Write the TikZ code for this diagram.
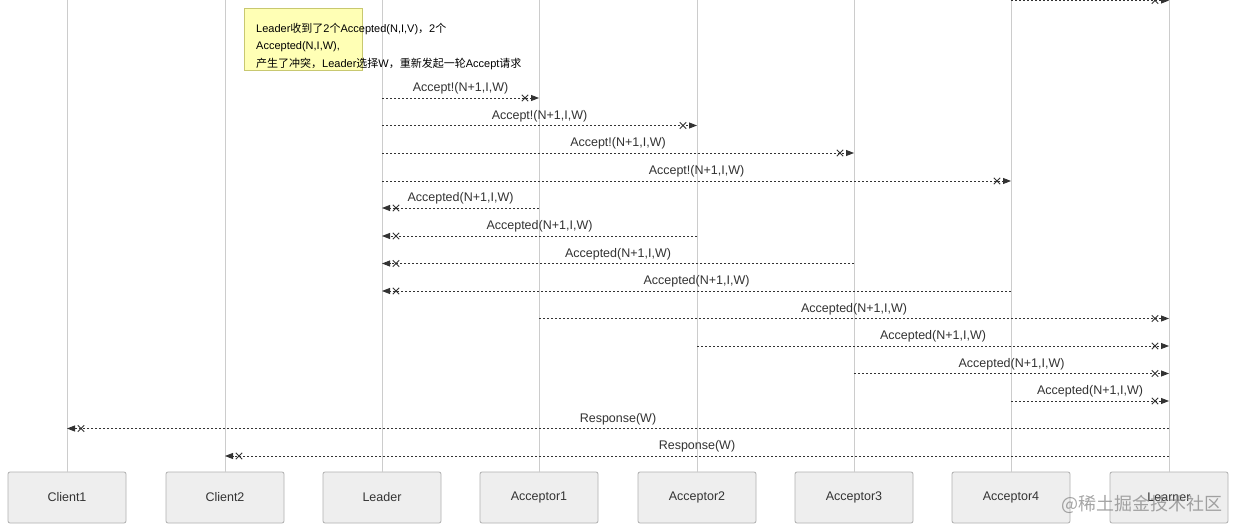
\documentclass[tikz,border=0pt]{standalone}
\usepackage{fontspec}
\setmainfont{Liberation Sans}
\newfontfamily\cjk{Noto Sans CJK SC}
\usetikzlibrary{arrows.meta,shapes.misc,calc}
\definecolor{lifec}{HTML}{CCCCCC}
\definecolor{boxfill}{HTML}{EEEEEE}
\definecolor{boxline}{HTML}{B0B0B0}
\definecolor{msgc}{HTML}{333333}
\definecolor{notefill}{HTML}{FFFFB5}
\definecolor{noteline}{HTML}{C8C870}
\tikzset{
  actor/.style={draw=boxline, fill=boxfill, rounded corners=2pt, minimum width=118pt, minimum height=51pt, inner sep=0pt, font=\fontsize{12.5}{14}\selectfont, text=msgc, line width=0.8pt},
  life/.style={draw=lifec, line width=0.9pt},
  msg/.style={draw=msgc, line width=0.9pt, dash pattern=on 2pt off 2pt, -{Triangle[length=8pt,width=6pt]}},
  lbl/.style={above=2pt, font=\fontsize{12.5}{14}\selectfont, text=msgc, inner sep=1pt},
  xmark/.style={cross out, draw=msgc, line width=0.9pt, minimum size=5.5pt, inner sep=0pt},
}
\newcommand\msgline[4]{%
  \coordinate (ms) at (#1.north |- 0,#3);
  \coordinate (me) at (#2.north |- 0,#3);
  \draw[msg] (ms) -- node[lbl]{#4} (me);
  \node[xmark] at ($(me)!14pt!(ms)$) {};
}
\begin{document}
\begin{tikzpicture}[x=1pt,y=-1pt]
\useasboundingbox (0,0) rectangle (1240,532);
\fill[white] (0,0) rectangle (1240,532);
% actors
\node[actor] (c1) at (67,497.5) {Client1};
\node[actor] (c2) at (225,497.5) {Client2};
\node[actor] (ld) at (382,497.5) {Leader};
\node[actor] (a1) at (539,497.5) {Acceptor1};
\node[actor] (a2) at (697,497.5) {Acceptor2};
\node[actor] (a3) at (854,497.5) {Acceptor3};
\node[actor] (a4) at (1011,497.5) {Acceptor4};
\node[actor] (lr) at (1169,497.5) {Learner};
% lifelines
\foreach \n in {c1,c2,ld,a1,a2,a3,a4,lr}{
  \draw[life] (\n.north) -- (\n.north |- 0,-2);
}
% note
\node[draw=noteline, fill=notefill, line width=0.8pt, minimum width=118pt, minimum height=62pt, inner sep=0pt] (note) at (303,39) {};
\node[anchor=north west, align=left, inner sep=0pt, font=\fontsize{11}{17.5}\selectfont, text=black] (notetext) at (256,23)
 {Leader{\cjk 收到了}2{\cjk 个}Accepted(N,I,V){\cjk ，}2{\cjk 个}\\
  Accepted(N,I,W),\\
  {\cjk 产生了冲突，}Leader{\cjk 选择}W{\cjk ，重新发起一轮}Accept{\cjk 请求}};
% messages
\msgline{a4}{lr}{0.5}{}
\msgline{ld}{a1}{98}{Accept!(N+1,I,W)}
\msgline{ld}{a2}{125.5}{Accept!(N+1,I,W)}
\msgline{ld}{a3}{153}{Accept!(N+1,I,W)}
\msgline{ld}{a4}{181}{Accept!(N+1,I,W)}
\msgline{a1}{ld}{208}{Accepted(N+1,I,W)}
\msgline{a2}{ld}{236}{Accepted(N+1,I,W)}
\msgline{a3}{ld}{263.5}{Accepted(N+1,I,W)}
\msgline{a4}{ld}{291}{Accepted(N+1,I,W)}
\msgline{a1}{lr}{318.5}{Accepted(N+1,I,W)}
\msgline{a2}{lr}{346}{Accepted(N+1,I,W)}
\msgline{a3}{lr}{373.5}{Accepted(N+1,I,W)}
\msgline{a4}{lr}{401}{Accepted(N+1,I,W)}
\msgline{lr}{c1}{428.5}{Response(W)}
\msgline{lr}{c2}{456}{Response(W)}
% watermark
\node[text=gray, opacity=0.7, font=\cjk\fontsize{18}{20}\selectfont, inner sep=0pt] (wm) at (1142,504) {@稀土掘金技术社区};
\end{tikzpicture}
\end{document}
